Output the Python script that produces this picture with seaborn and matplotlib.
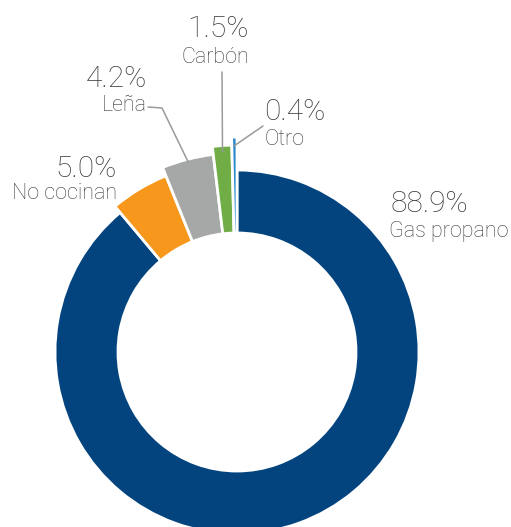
import matplotlib
matplotlib.use("Agg")
import matplotlib.pyplot as plt
import seaborn as sns
import numpy as np

# Cooking fuel shares (%)
categories = ["Gas propano", "No cocinan", "Leña", "Carbón", "Otro"]
shares = [88.9, 5.0, 4.2, 1.5, 0.4]
pct_labels = [f"{v:.1f}%" for v in shares]

colors = ["#03447F", "#F7981D", "#A6A8A7", "#70AD47", "#2E8BCB"]

sns.set_theme(style="white")
plt.rcParams["font.family"] = ["Roboto", "DejaVu Sans"]

W, H = 511, 527
fig = plt.figure(figsize=(W / 100, H / 100), dpi=100)
ax = fig.add_axes([0, 0, 1, 1])

# donut geometry (pixel scale of a unit radius, centre in pixels)
scale = 182.0
cx, cy = 237.0, 352.0
inner = 0.654
outer = [1.0, 1.044, 1.093, 1.137, 1.181]


def px(x, y):
    """pixel position (from top-left) -> data coordinates"""
    return (x - cx) / scale, (cy - y) / scale


wedges, _ = ax.pie(
    shares,
    colors=colors,
    startangle=90,
    counterclock=False,
    radius=1.0,
    wedgeprops=dict(width=1 - inner, edgecolor="white", linewidth=2),
)
for w, r in zip(wedges, outer):
    w.set_radius(r)
    w.set_width(r - inner)

x0, y0 = px(0, H)
x1, y1 = px(W, 0)
ax.set_xlim(x0, x1)
ax.set_ylim(y0, y1)
ax.set_aspect("auto")
ax.axis("off")

txt_color = "#3C3C3C"
pct_size, cat_size = 21.5, 15.5

# label layout: (pct x, pct baseline, cat x, cat baseline, ha)
layout = {
    "Gas propano": (390, 212, 389, 237, "left"),
    "No cocinan": (117, 177, 117, 199, "right"),
    "Leña": (147, 87, 147, 111, "right"),
    "Carbón": (249, 37, 249, 63, "right"),
    "Otro": (264, 120, 265, 145, "left"),
}
for cat, pct in zip(categories, pct_labels):
    pxx, pyy, cxx, cyy, ha = layout[cat]
    ax.text(*px(pxx, pyy), pct, ha=ha, va="baseline", fontsize=pct_size,
            color=txt_color, fontweight="light")
    ax.text(*px(cxx, cyy), cat, ha=ha, va="baseline", fontsize=cat_size,
            color=txt_color, fontweight="light")

# leader lines from label to wedge
lead_color = "#9A9A9A"


def wedge_point(w, frac):
    ang = np.deg2rad((w.theta1 + w.theta2) / 2)
    r = w.r * frac
    return r * np.cos(ang), r * np.sin(ang)


idx = {c: i for i, c in enumerate(categories)}
# Leña: short horizontal then down to the wedge
lx, ly = px(148, 107)
mx, my = px(162, 108)
ex, ey = wedge_point(wedges[idx["Leña"]], 0.985)
ax.plot([lx, mx, ex], [ly, my, ey], color=lead_color, lw=1.1)
# Carbón
sx, sy = px(222, 72)
ex, ey = wedge_point(wedges[idx["Carbón"]], 0.97)
ax.plot([sx, ex], [sy, ey], color=lead_color, lw=1.1)
# Otro
sx, sy = px(263, 126)
ex, ey = wedge_point(wedges[idx["Otro"]], 0.96)
ax.plot([sx, ex], [sy, ey], color=lead_color, lw=1.1)

fig.savefig("out.png", dpi=100, facecolor="white")
